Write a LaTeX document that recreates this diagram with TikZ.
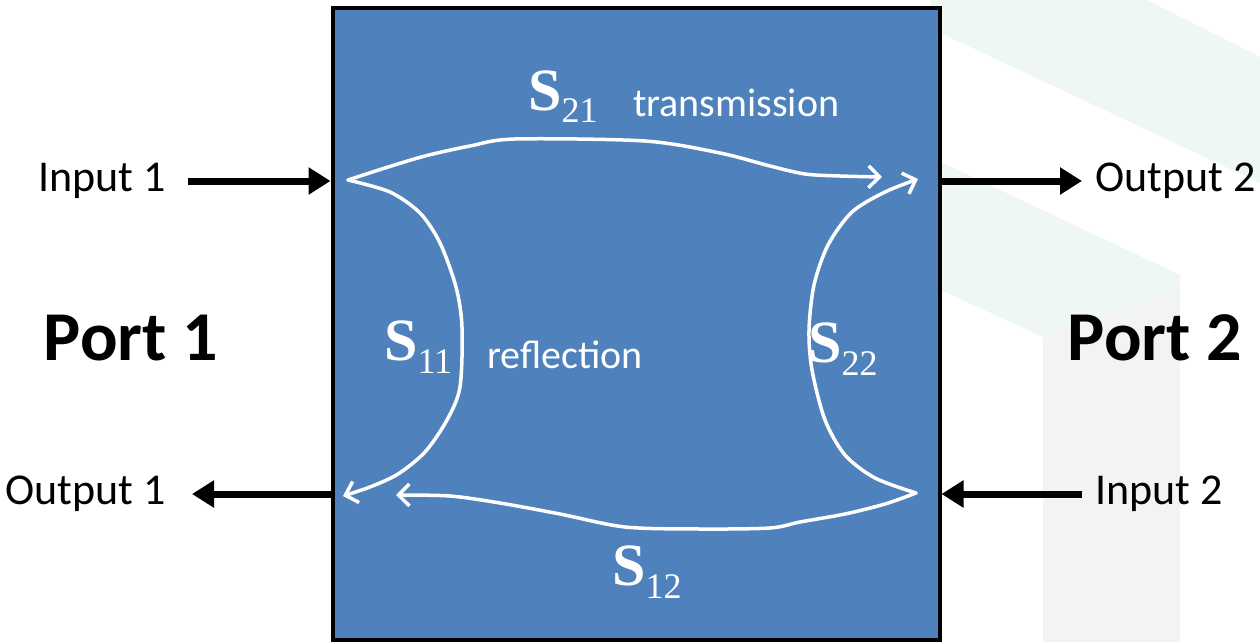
\documentclass[tikz,border=0pt]{standalone}
\usepackage{fontspec}
\setmainfont{Carlito}
\newfontfamily\serifsym{Liberation Serif}
\usetikzlibrary{arrows.meta, positioning, calc}
\definecolor{inkcolor}{HTML}{000000}
\definecolor{boxfill}{HTML}{4F81BD}
\definecolor{markgreen}{HTML}{EFF7F2}
\definecolor{markgray}{HTML}{F2F3F5}
\newcommand{\sparam}[1]{{\serifsym\fontsize{60}{60}\selectfont\bfseries S}\raisebox{-13pt}{\serifsym\fontsize{36}{36}\selectfont #1}}

\begin{document}
\begin{tikzpicture}[
  x=1pt, y=-1pt, >=Latex,
  every node/.style={inner sep=0pt},
]

\tikzset{
  network/.style={rectangle, draw=inkcolor, line width=4pt, fill=boxfill,
    minimum width=607pt, minimum height=631pt},
  portlabel/.style={font=\fontsize{44}{44}\selectfont, text=inkcolor},
  porthead/.style={font=\fontsize{70}{70}\selectfont\bfseries, text=inkcolor},
  portline/.style={-{Triangle[length=22pt, width=26pt]}, line width=7pt, inkcolor},
  waveline/.style={-{Straight Barb[length=11pt, width=22pt, line width=3.5pt]}, white,
    line width=3.5pt, line join=round, line cap=round},
  sparam/.style={anchor=base west, text=white},
  waveword/.style={anchor=base west, font=\fontsize{40}{40}\selectfont, text=white},
}

% ---- page and faint marks ----
\useasboundingbox (0,0) rectangle (1260,642);
\fill[white] (0,0) rectangle (1260,642);
\fill[markgreen] (930,0) -- (1147,0) -- (1260,57) -- (1260,183) -- (930,28) -- cycle;
\fill[markgreen] (930,157) -- (1180,275) -- (1180,290) -- (1043,337) -- (930,285) -- cycle;
\fill[markgray] (1043,337) -- (1180,290) -- (1180,642) -- (1043,642) -- cycle;

% ---- two-port ----
\node[network] (dut) at (636,324) {};

\node[porthead] (port1) at (131,338) {Port 1};
\node[porthead] (port2) at (1155,338) {Port 2};

\node[portlabel, anchor=east] (in1)  at (166,181) {Input 1};
\node[portlabel, anchor=east] (out1) at (166,494) {Output 1};
\node[portlabel, anchor=west] (out2) at (1095,181) {Output 2};
\node[portlabel, anchor=west] (in2)  at (1095,494) {Input 2};

\draw[portline, shorten <=22pt] (in1.east) -- (in1.east -| dut.west);
\draw[portline, shorten >=26pt] (out1.east -| dut.west) -- (out1.east);
\draw[portline, shorten >=13pt] (out2.west -| dut.east) -- (out2.west);
\draw[portline, shorten <=13pt] (in2.west) -- (in2.west -| dut.east);

% ---- signal paths ----
\coordinate (v1) at (348,180);
\coordinate (v2) at (916,493);
\coordinate (tip21) at (882,177);
\coordinate (tip22) at (918,179);
\coordinate (tip11) at (343,496);
\coordinate (tip12) at (396,495);

\draw[waveline] plot[smooth, tension=0.5] coordinates
  {(v1) (385,168) (425,156) (470,146) (515,139) (645,141) (720,153) (770,166) (805,174) (840,176) (tip21)};
\draw[waveline] plot[smooth, tension=0.5] coordinates
  {(v2) (875,478) (845,455) (825,420) (812,370) (809,330) (814,285) (828,245) (852,212) (885,192) (tip22)};
\draw[waveline] plot[smooth, tension=0.5] coordinates
  {(v1) (390,192) (420,213) (440,243) (456,287) (462,327) (460,387) (447,420) (425,452) (398,474) (370,487) (tip11)};
\draw[waveline] plot[smooth, tension=0.5] coordinates
  {(v2) (885,504) (845,514) (800,522) (770,528) (700,529) (625,527) (560,514) (500,503) (450,496) (tip12)};

\node[sparam] (s21) at (528,110) {\sparam{21}};
\node[waveword] (trans) at (633,116) {transmission};
\node[sparam] (s11) at (384,360) {\sparam{11}};
\node[waveword] (refl) at (487,368) {reflection};
\node[sparam] (s22) at (808,362) {\sparam{22}};
\node[sparam] (s12) at (612,585) {\sparam{12}};

\end{tikzpicture}
\end{document}
